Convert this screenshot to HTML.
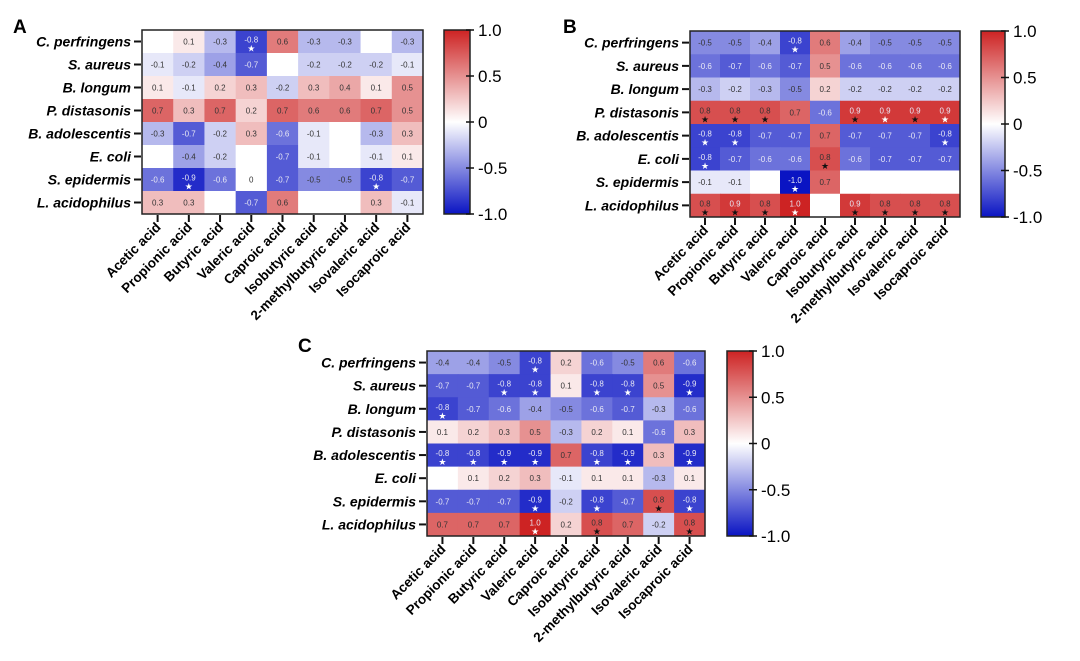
<!DOCTYPE html>
<html><head><meta charset="utf-8"><style>
html,body{margin:0;padding:0;background:#fff;}
svg{display:block;font-family:"Liberation Sans",Arial,sans-serif;}
</style></head><body>
<svg id="s" width="1080" height="661" xmlns="http://www.w3.org/2000/svg"></svg>
<script>
const rows=["C. perfringens","S. aureus","B. longum","P. distasonis","B. adolescentis","E. coli","S. epidermis","L. acidophilus"];
const cols=["Acetic acid","Propionic acid","Butyric acid","Valeric acid","Caproic acid","Isobutyric acid","2-methylbutyric acid","Isovaleric acid","Isocaproic acid"];
const A=[
"_ 0.1 -0.3 -0.8*w 0.6 -0.3 -0.3 _ -0.3",
"-0.1 -0.2 -0.4 -0.7 _ -0.2 -0.2 -0.2 -0.1",
"0.1 -0.1 0.2 0.3 -0.2 0.3 0.4 0.1 0.5",
"0.7 0.3 0.7 0.2 0.7 0.6 0.6 0.7 0.5",
"-0.3 -0.7 -0.2 0.3 -0.6 -0.1 _ -0.3 0.3",
"_ -0.4 -0.2 _ -0.7 -0.1 _ -0.1 0.1",
"-0.6 -0.9*w -0.6 0 -0.7 -0.5 -0.5 -0.8*w -0.7",
"0.3 0.3 _ -0.7 0.6 _ _ 0.3 -0.1"];
const B=[
"-0.5 -0.5 -0.4 -0.8*w 0.6 -0.4 -0.5 -0.5 -0.5",
"-0.6 -0.7 -0.6 -0.7 0.5 -0.6 -0.6 -0.6 -0.6",
"-0.3 -0.2 -0.3 -0.5 0.2 -0.2 -0.2 -0.2 -0.2",
"0.8*b 0.8*b 0.8*b 0.7 -0.6 0.9*b 0.9*w 0.9*b 0.9*w",
"-0.8*w -0.8*w -0.7 -0.7 0.7 -0.7 -0.7 -0.7 -0.8*w",
"-0.8*w -0.7 -0.6 -0.6 0.8*b -0.6 -0.7 -0.7 -0.7",
"-0.1 -0.1 _ -1.0*w 0.7 _ _ _ _",
"0.8*b 0.9*b 0.8*b 1.0*w _ 0.9*b 0.8*b 0.8*b 0.8*b"];
const C=[
"-0.4 -0.4 -0.5 -0.8*w 0.2 -0.6 -0.5 0.6 -0.6",
"-0.7 -0.7 -0.8*w -0.8*w 0.1 -0.8*w -0.8*w 0.5 -0.9*w",
"-0.8*w -0.7 -0.6 -0.4 -0.5 -0.6 -0.7 -0.3 -0.6",
"0.1 0.2 0.3 0.5 -0.3 0.2 0.1 -0.6 0.3",
"-0.8*w -0.8*w -0.9*w -0.9*w 0.7 -0.8*w -0.9*w 0.3 -0.9*w",
"_ 0.1 0.2 0.3 -0.1 0.1 0.1 -0.3 0.1",
"-0.7 -0.7 -0.7 -0.9*w -0.2 -0.8*w -0.7 0.8*b -0.8*w",
"0.7 0.7 0.7 1.0*w 0.2 0.8*b 0.7 -0.2 0.8*b"];
const svg=document.getElementById('s');let h='';
function col(v){let t=Math.min(1,Math.abs(v));
 if(v<0){return `rgb(${Math.round(255-245*t)},${Math.round(255-235*t)},${Math.round(255-60*t)})`;}
 return `rgb(${Math.round(255-50*t)},${Math.round(255-220*t)},${Math.round(255-220*t)})`;}
function panel(L,lx,ly,data,x0,x1,y0,y1,cx0,cx1){
 const cw=(x1-x0)/9,ch=(y1-y0)/8;
 h+=`<text x="${lx}" y="${ly}" font-size="19" font-weight="bold">${L}</text>`;
 data.forEach((r,i)=>{r.split(' ').forEach((c,j)=>{
  const x=x0+j*cw,y=y0+i*ch;let v=0,lab='',st=null;
  if(c!=='_'){let p=c.split('*');v=parseFloat(p[0]);lab=p[0];if(p[1])st=p[1];}
  h+=`<rect x="${x}" y="${y}" width="${cw+0.5}" height="${ch+0.5}" fill="${col(v)}"/>`;
  if(lab!==''){const tc=(v<=-0.6||v>=0.9)?'#e8e8f4':'#333';
   h+=`<text x="${x+cw/2}" y="${y+ch/2+(st?1:3)}" font-size="8" fill="${tc}" text-anchor="middle">${lab}</text>`;
   if(st)h+=`<text x="${x+cw/2}" y="${y+ch/2+10}" font-size="9" fill="${st=='w'?'#fff':'#111'}" text-anchor="middle">★</text>`;}
 });
 const yc=y0+i*ch+ch/2;
 h+=`<line x1="${x0-8}" y1="${yc}" x2="${x0-1}" y2="${yc}" stroke="#111" stroke-width="2"/>`;
 h+=`<text x="${x0-11}" y="${yc+5}" font-size="14" font-weight="bold" font-style="italic" text-anchor="end">${rows[i]}</text>`;});
 h+=`<rect x="${x0}" y="${y0}" width="${x1-x0}" height="${y1-y0}" fill="none" stroke="#222" stroke-width="1.5"/>`;
 cols.forEach((c,j)=>{const xc=x0+j*cw+cw/2;
  h+=`<line x1="${xc}" y1="${y1+1}" x2="${xc}" y2="${y1+8}" stroke="#111" stroke-width="2"/>`;
  h+=`<text transform="translate(${xc+4},${y1+14}) rotate(-45)" font-size="13.5" font-weight="bold" text-anchor="end">${c}</text>`;});
 const gid='g'+L;
 h+=`<defs><linearGradient id="${gid}" x1="0" y1="0" x2="0" y2="1"><stop offset="0" stop-color="${col(1)}"/><stop offset="0.5" stop-color="#fff"/><stop offset="1" stop-color="${col(-1)}"/></linearGradient></defs>`;
 h+=`<rect x="${cx0}" y="${y0}" width="${cx1-cx0}" height="${y1-y0}" fill="url(#${gid})" stroke="#222" stroke-width="1.5"/>`;
 ["1.0","0.5","0","-0.5","-1.0"].forEach((t,k)=>{const yy=y0+k*(y1-y0)/4;
  h+=`<line x1="${cx1-4}" y1="${yy}" x2="${cx1+4}" y2="${yy}" stroke="#111" stroke-width="1.5"/>`;
  h+=`<text x="${cx1+8}" y="${yy+6}" font-size="17">${t}</text>`;});
}
panel('A',13,33,A,142,423,30,214,444,470);
panel('B',563,33,B,690,960,31,217,981,1005);
panel('C',298,352,C,427,705,351,536,727,753);
svg.innerHTML=h;
</script>
</body></html>
